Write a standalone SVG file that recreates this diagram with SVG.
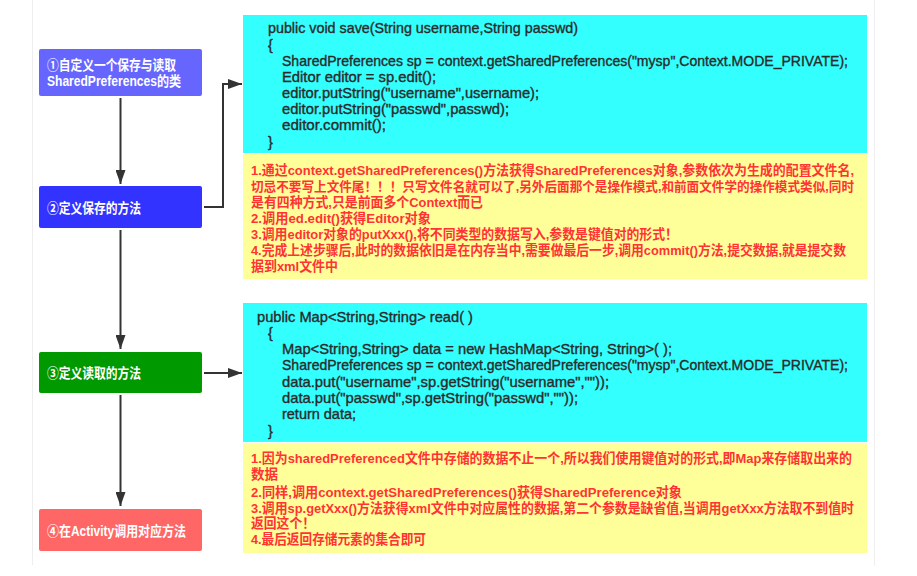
<svg xmlns="http://www.w3.org/2000/svg" width="917" height="576" viewBox="0 0 917 576">
<style>
.bx{font-family:"Liberation Sans","Noto Sans CJK SC",sans-serif;font-size:14px;font-weight:bold;fill:#ffffff}
.code{font-family:"Liberation Sans","Noto Sans CJK SC",sans-serif;font-size:14.5px;fill:#2a2a2a;stroke:#2a2a2a;stroke-width:0.35}
.note{font-family:"Liberation Sans","Noto Sans CJK SC",sans-serif;font-size:13.5px;font-weight:bold;fill:#ff3333}
.cn{stroke:#333333;stroke-width:2;fill:none}
</style>
<defs>
<marker id="ah2" viewBox="0 0 14 10" markerWidth="14" markerHeight="10" refX="14" refY="5" orient="auto" markerUnits="userSpaceOnUse">
<path d="M0,0 L14,5 L0,10 Z" fill="#333333"/>
</marker>
</defs>
<rect width="917" height="576" fill="#ffffff"/>
<line x1="32.5" y1="0" x2="32.5" y2="565" stroke="#eeeeee" stroke-width="1"/>
<line x1="874.5" y1="0" x2="874.5" y2="566" stroke="#eeeeee" stroke-width="1"/>

<g id="connectors">
<line class="cn" x1="120.5" y1="98" x2="120.5" y2="184" marker-end="url(#ah2)"/>
<line class="cn" x1="120.5" y1="230" x2="120.5" y2="349" marker-end="url(#ah2)"/>
<line class="cn" x1="120.5" y1="395" x2="120.5" y2="506" marker-end="url(#ah2)"/>
<polyline class="cn" points="204,207 223,207 223,84 242,84" marker-end="url(#ah2)"/>
<line class="cn" x1="204" y1="373" x2="242" y2="373" marker-end="url(#ah2)"/>
</g>

<g id="node1">
<rect x="39" y="49" width="163" height="47" rx="2" fill="#6666ff"/>
<text class="bx" x="47" y="70" textLength="129" lengthAdjust="spacingAndGlyphs">①自定义一个保存与读取</text>
<text class="bx" x="47" y="86" textLength="134" lengthAdjust="spacingAndGlyphs">SharedPreferences的类</text>
</g>
<g id="node2">
<rect x="39" y="186" width="163" height="42" rx="2" fill="#3333ff"/>
<text class="bx" x="47" y="213" textLength="94" lengthAdjust="spacingAndGlyphs">②定义保存的方法</text>
</g>
<g id="node3">
<rect x="39" y="352" width="163" height="41" rx="2" fill="#009900"/>
<text class="bx" x="47" y="378" textLength="94" lengthAdjust="spacingAndGlyphs">③定义读取的方法</text>
</g>
<g id="node4">
<rect x="39" y="509" width="163" height="42" rx="2" fill="#ff6666"/>
<text class="bx" x="47" y="536" textLength="139" lengthAdjust="spacingAndGlyphs">④在Activity调用对应方法</text>
</g>

<g id="code-save">
<rect x="243" y="15" width="624" height="138" fill="#33ffff"/>
<text class="code" x="268" y="33" textLength="310" lengthAdjust="spacingAndGlyphs">public void save(String username,String passwd)</text>
<text class="code" x="268" y="50">{</text>
<text class="code" x="282" y="66" textLength="566" lengthAdjust="spacingAndGlyphs">SharedPreferences sp = context.getSharedPreferences("mysp",Context.MODE_PRIVATE);</text>
<text class="code" x="282" y="82" textLength="154" lengthAdjust="spacingAndGlyphs">Editor editor = sp.edit();</text>
<text class="code" x="282" y="98" textLength="257" lengthAdjust="spacingAndGlyphs">editor.putString("username",username);</text>
<text class="code" x="282" y="114" textLength="227" lengthAdjust="spacingAndGlyphs">editor.putString("passwd",passwd);</text>
<text class="code" x="282" y="130" textLength="104" lengthAdjust="spacingAndGlyphs">editor.commit();</text>
<text class="code" x="268" y="147">}</text>
</g>

<g id="note-save">
<rect x="243" y="154" width="624" height="125" fill="#ffff99"/>
<text class="note" x="251" y="175" textLength="603" lengthAdjust="spacingAndGlyphs">1.通过context.getSharedPreferences()方法获得SharedPreferences对象,参数依次为生成的配置文件名,</text>
<text class="note" x="251" y="191" textLength="603" lengthAdjust="spacingAndGlyphs" style="font-size:13px">切忌不要写上文件尾！！！只写文件名就可以了,另外后面那个是操作模式,和前面文件学的操作模式类似,同时</text>
<text class="note" x="251" y="207" textLength="232" lengthAdjust="spacingAndGlyphs">是有四种方式,只是前面多个Context而已</text>
<text class="note" x="251" y="223" textLength="180" lengthAdjust="spacingAndGlyphs">2.调用ed.edit()获得Editor对象</text>
<text class="note" x="251" y="239" textLength="427" lengthAdjust="spacingAndGlyphs">3.调用editor对象的putXxx(),将不同类型的数据写入,参数是键值对的形式！</text>
<text class="note" x="251" y="255" textLength="595" lengthAdjust="spacingAndGlyphs">4.完成上述步骤后,此时的数据依旧是在内存当中,需要做最后一步,调用commit()方法,提交数据,就是提交数</text>
<text class="note" x="251" y="271" textLength="87" lengthAdjust="spacingAndGlyphs">据到xml文件中</text>
</g>

<g id="code-read">
<rect x="243" y="303" width="624" height="139" fill="#33ffff"/>
<text class="code" x="257" y="322" textLength="216" lengthAdjust="spacingAndGlyphs">public Map&lt;String,String&gt; read( )</text>
<text class="code" x="268" y="338">{</text>
<text class="code" x="282" y="354" textLength="390" lengthAdjust="spacingAndGlyphs">Map&lt;String,String&gt; data = new HashMap&lt;String, String&gt;( );</text>
<text class="code" x="282" y="370" textLength="566" lengthAdjust="spacingAndGlyphs">SharedPreferences sp = context.getSharedPreferences("mysp",Context.MODE_PRIVATE);</text>
<text class="code" x="282" y="387" textLength="327" lengthAdjust="spacingAndGlyphs">data.put("username",sp.getString("username",""));</text>
<text class="code" x="282" y="403" textLength="296" lengthAdjust="spacingAndGlyphs">data.put("passwd",sp.getString("passwd",""));</text>
<text class="code" x="282" y="419" textLength="74" lengthAdjust="spacingAndGlyphs">return data;</text>
<text class="code" x="268" y="436">}</text>
</g>

<g id="note-read">
<rect x="243" y="443" width="624" height="110" fill="#ffff99"/>
<text class="note" x="251" y="463" textLength="601" lengthAdjust="spacingAndGlyphs">1.因为sharedPreferenced文件中存储的数据不止一个,所以我们使用键值对的形式,即Map来存储取出来的</text>
<text class="note" x="251" y="479" textLength="27" lengthAdjust="spacingAndGlyphs">数据</text>
<text class="note" x="251" y="497" textLength="431" lengthAdjust="spacingAndGlyphs">2.同样,调用context.getSharedPreferences()获得SharedPreference对象</text>
<text class="note" x="251" y="513" textLength="603" lengthAdjust="spacingAndGlyphs">3.调用sp.getXxx()方法获得xml文件中对应属性的数据,第二个参数是缺省值,当调用getXxx方法取不到值时</text>
<text class="note" x="251" y="528" textLength="64" lengthAdjust="spacingAndGlyphs">返回这个！</text>
<text class="note" x="251" y="544" textLength="175" lengthAdjust="spacingAndGlyphs">4.最后返回存储元素的集合即可</text>
</g>
</svg>
